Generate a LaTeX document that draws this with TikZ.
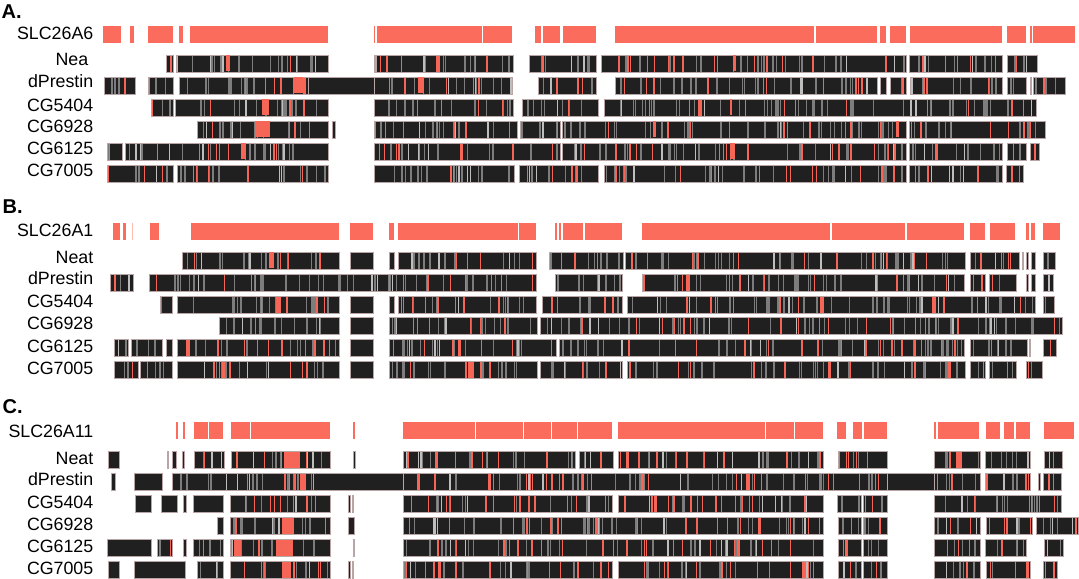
\documentclass[tikz,border=0pt]{standalone}
\usepackage{fontspec}
\setmainfont{Liberation Sans}
\definecolor{refred}{RGB}{252,108,92}
\definecolor{barblk}{RGB}{32,32,32}
\definecolor{strgray}{RGB}{125,125,125}
\definecolor{strlight}{RGB}{190,190,190}
\definecolor{strred}{RGB}{245,102,86}
\definecolor{frm}{RGB}{185,165,165}
\newcommand{\redp}{0.3}
\newcommand{\dens}{7}
% striped black segment: #1 top, #2 x1, #3 x2
\newcommand{\bseg}[3]{%
  \fill[barblk] (#2,#1) rectangle (#3,#1+17);
  \pgfmathtruncatemacro{\nst}{(#3-#2)/\dens}%
  \ifnum\nst>0
    \foreach \k in {1,...,\nst}{%
      \pgfmathsetmacro{\xs}{#2+1+rnd*(#3-#2-2)}%
      \pgfmathsetmacro{\cc}{rnd}%
      \pgfmathsetmacro{\ww}{0.7+rnd*1.2}%
      \ifdim\cc pt<\redp pt\relax\def\scol{strred}\else\ifdim\cc pt<0.9pt\relax\def\scol{strgray}\else\def\scol{strlight}\fi\fi
      \draw[\scol,line width=\ww pt] (\xs,#1) -- (\xs,#1+17);
    }%
  \fi
  \draw[frm,line width=0.6pt] (#2,#1) rectangle (#3,#1+17);
}
% solid black segment
\newcommand{\sseg}[3]{%
  \fill[barblk] (#2,#1) rectangle (#3,#1+17);
  \draw[frm,line width=0.6pt] (#2,#1) rectangle (#3,#1+17);
}
\newcommand{\brow}[2]{\foreach \a/\b in {#2}{\bseg{#1}{\a}{\b}}}
\newcommand{\srow}[2]{\foreach \a/\b in {#2}{\sseg{#1}{\a}{\b}}}
\newcommand{\rrow}[2]{\foreach \a/\b in {#2}{\fill[refred] (\a,#1) rectangle (\b,#1+17);}}
\newcommand{\rpat}[2]{\foreach \a/\b in {#2}{\fill[strred] (\a,#1+0.5) rectangle (\b,#1+16.5);}}
\tikzset{
  lab/.style={font=\fontsize{17.8bp}{20bp}\selectfont, inner sep=0pt, anchor=base east},
  plab/.style={font=\fontsize{20bp}{22bp}\selectfont\bfseries, inner sep=0pt, anchor=base west}
}
\begin{document}
\begin{tikzpicture}[x=1bp,y=-1bp]
\useasboundingbox (0,0) rectangle (1079,579);
\fill[white] (0,0) rectangle (1079,579);
\pgfmathsetseed{4711}
% ================= Panel A =================
\node[plab] (pa) at (1.5,18.3) {A.};
\node[lab] (a0) at (93.5,40) {SLC26A6};
\node[lab] (a1) at (88.5,65.7) {Nea};
\node[lab] (a2) at (93.5,87.5) {dPrestin};
\node[lab] (a3) at (93.5,111.5) {CG5404};
\node[lab] (a4) at (93.5,133) {CG6928};
\node[lab] (a5) at (93.5,155) {CG6125};
\node[lab] (a6) at (93.5,176.7) {CG7005};
\rrow{26}{103/121,130/134,148/173,179/183,190/328,373.5/375,377/481.5,483/512,535/541,542.5/560,563/596,615/814,816/877,880/886,890/906,910/1002,1007/1026,1030/1031.5,1033/1075}
\brow{55}{166/173,176/328,376.5/513,529/596,601/906,909/1002,1007/1037}
\srow{55}{374/375.5}
\brow{77}{104/135,148/173,179/308,374/512,538/596,615/877,880/886,890/906,910/1002,1007/1026,1033/1065}
\srow{77}{308/374,1030/1031.5}
\brow{99}{151/173,175/328,374/513,522/598,604/1036}
\brow{121}{197/328,374/517,520/560,562/906,909/1045}
\srow{121}{332/335}
\brow{143}{107/122,125/328,374/560,562/906,909/1002,1007/1026,1030/1039}
\brow{165}{107/173,177/328,374/514,519/598,604/906,909/1002,1006/1023}
\rpat{55}{226/230,733/735.5}
\rpat{77}{294/303,418/424}
\rpat{99}{262/269,730/732}
\rpat{121}{255/270,653/656,896/899}
\rpat{143}{241/246,730/735}
% ================= Panel B =================
\node[plab] (pb) at (2.5,214) {B.};
\node[lab] (b0) at (93.5,236.7) {SLC26A1};
\node[lab] (b1) at (93.5,263.3) {Neat};
\node[lab] (b2) at (93.5,285) {dPrestin};
\node[lab] (b3) at (93.5,307.3) {CG5404};
\node[lab] (b4) at (93.5,329.3) {CG6928};
\node[lab] (b5) at (93.5,352) {CG6125};
\node[lab] (b6) at (93.5,374) {CG7005};
\rrow{223}{113/120,123/126,150/159,191/339,350/373,389/394,398/517.5,519/536,555/557,559/561,563/583,585/622,642/830,832/905,907/964,970/985,990/1015,1026/1029,1031/1035,1043/1060}
\fill[refred!45] (131.5,223) rectangle (133,240);
\brow{252}{182/339,398/536,549/623,625/965,970/1019,1031/1035,1043/1055}
\srow{252}{350/373,389/394,1022/1023,1026/1028}
\brow{274}{110/133,149/536,555/622,642/964,970/985,989/1016,1043/1053}
\srow{274}{1026/1028,1031/1035}
\brow{296}{160/172,177/339,398/536,542/622,627/1035,1043/1054}
\srow{296}{350/373,389/394}
\brow{317}{219/339,389/537,540/1062}
\srow{317}{350/373}
\brow{339}{114/128,131/162,177/339,389/556,559/964,970/1027,1043/1056}
\srow{339}{166/172,350/373,1029/1030.5}
\brow{361}{114/138,140/172,177/339,389/537,540/622,627/965,970/985,989/1016,1026/1042}
\srow{361}{350/373}
\rpat{252}{269/274}
\rpat{296}{276/281,932/936}
\rpat{339}{458/461}
\rpat{361}{468/474}
% ================= Panel C =================
\renewcommand{\redp}{0.45}
\node[plab] (pc) at (2.5,413.3) {C.};
\node[lab] (c0) at (93.5,437.7) {SLC26A11};
\node[lab] (c1) at (93.5,464) {Neat};
\node[lab] (c2) at (93.5,485) {dPrestin};
\node[lab] (c3) at (93.5,508.3) {CG5404};
\node[lab] (c4) at (93.5,530) {CG6928};
\node[lab] (c5) at (93.5,552.3) {CG6125};
\node[lab] (c6) at (93.5,574) {CG7005};
\rrow{422}{176/177.5,183/185,194/207.5,209/223,231/249.5,251/330,353/354.5,403/474.5,476/522.5,524/550.5,552/576.5,578/612,618/764.5,766/793.5,795/823,837/846,853/862,864/887,934/936,938/979,986/1000,1004/1014,1016/1030,1044/1074}
\brow{451}{194/224,231/330,403/575,579/613,618/823,838/887,934/980,985/1030,1044/1062}
\srow{451}{108/119,167/168.5,172/176,182/184,353/355}
\brow{473}{111/115,172/313,403/887,934/980,985/1030,1043/1061}
\srow{473}{134/162,313/403,887/934,1038/1040}
\brow{495}{230/330,403/612,618/823,837/861,863/887,934/1061}
\srow{495}{135/151,161/177,183/186,193/223,348/350,352/353.5}
\brow{517}{230/330,403/823,838/861,863/887,934/980,986/1032,1036/1078}
\srow{517}{217/223,348/354}
\brow{539}{157/172,193/223,230/330,403/823,838/861,863/887,934/980,985/1026,1044/1063}
\srow{539}{107/151,183/186,353/354.5}
\brow{561}{197/223,230/330,403/612,618/823,838/861,863/887,934/980,986/1030,1043/1057}
\srow{561}{108/119,134/185,348/350,352/353.5}
\rpat{451}{284/300,956/962}
\rpat{473}{300/306}
\rpat{517}{282/294}
\rpat{539}{234/241,276/293}
\rpat{561}{282/291}
\end{tikzpicture}
\end{document}
